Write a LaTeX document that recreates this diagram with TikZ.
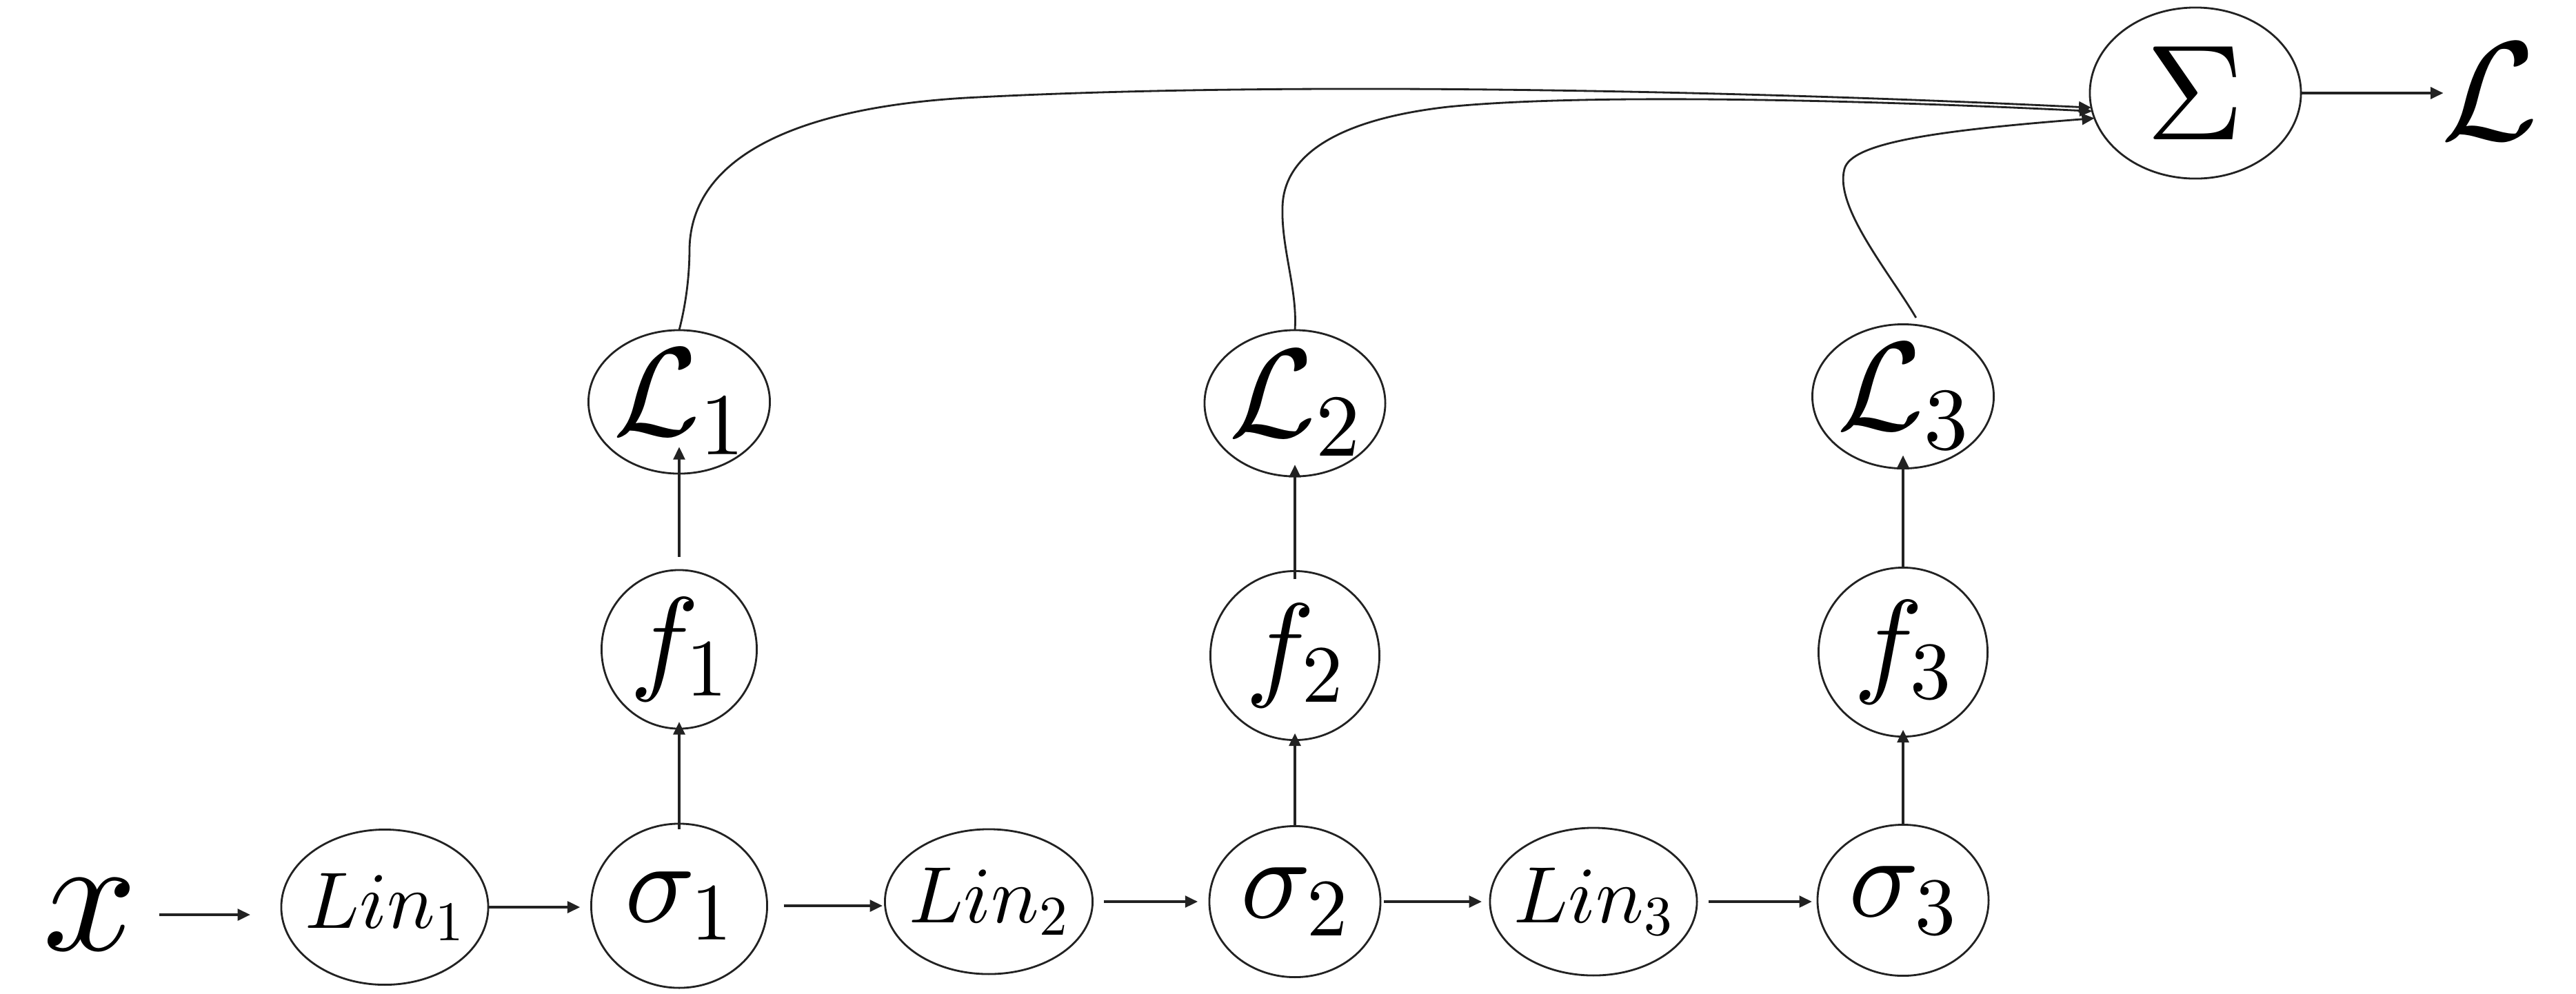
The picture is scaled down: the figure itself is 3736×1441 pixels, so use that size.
\documentclass[tikz,border=0pt]{standalone}
\DeclareFontShape{OML}{cmm}{m}{it}{<->cmmi10}{}
\DeclareFontShape{OMS}{cmsy}{m}{n}{<->cmsy10}{}
\DeclareFontShape{OT1}{cmr}{m}{n}{<->cmr10}{}
\usetikzlibrary{shapes.geometric,arrows.meta}
\definecolor{ink}{RGB}{34,34,34}
\begin{document}
\begin{tikzpicture}[x=0.01cm, y=-0.01cm,
  ell/.style={draw=ink, ellipse, line width=0.8pt, inner sep=0pt, outer sep=0pt},
  arr/.style={draw=ink, line width=0.9pt, -{Triangle[length=5.2pt,width=4.8pt]}},
  crv/.style={draw=ink, line width=0.8pt, -{Triangle[length=5.2pt,width=4.6pt]}},
  tlin/.style={font=\fontsize{33}{40}\selectfont, inner sep=0pt},
  tmid/.style={font=\fontsize{48}{58}\selectfont, inner sep=0pt},
  tloss/.style={font=\fontsize{52}{62}\selectfont, inner sep=0pt},
  tsum/.style={font=\fontsize{56}{66}\selectfont, inner sep=0pt},
  tout/.style={font=\fontsize{58}{70}\selectfont, inner sep=0pt},
  tin/.style={font=\fontsize{68}{80}\selectfont, inner sep=0pt}]
\path[fill=white] (0,0) rectangle (3736,1441);
\useasboundingbox (0,0) rectangle (3736,1441);

% input and output texts
\node[tin] (x) at (131,1327) {$x$};
\node[tout] (Lf) at (3611,133) {$\mathcal{L}$};

% bottom row
\node[ell, minimum width=3.00cm, minimum height=2.25cm, label={[tlin]center:$Lin_1$}] (lin1) at (558,1316) {};
\node[ell, minimum width=2.55cm, minimum height=2.38cm, label={[tmid]center:$\sigma_1$}] (s1) at (985,1314) {};
\node[ell, minimum width=3.01cm, minimum height=2.10cm, label={[tlin]center:$Lin_2$}] (lin2) at (1434,1308) {};
\node[ell, minimum width=2.48cm, minimum height=2.19cm, label={[tmid]center:$\sigma_2$}] (s2) at (1878,1308) {};
\node[ell, minimum width=3.00cm, minimum height=2.14cm, label={[tlin]center:$Lin_3$}] (lin3) at (2311,1308) {};
\node[ell, minimum width=2.48cm, minimum height=2.19cm, label={[tmid]center:$\sigma_3$}] (s3) at (2760,1306) {};

% middle row
\node[ell, minimum width=2.25cm, minimum height=2.30cm, label={[tmid]center:$f_1$}] (f1) at (985,942) {};
\node[ell, minimum width=2.45cm, minimum height=2.45cm, label={[tmid]center:$f_2$}] (f2) at (1878,951) {};
\node[ell, minimum width=2.45cm, minimum height=2.45cm, label={[tmid]center:$f_3$}] (f3) at (2760,946) {};

% top row
\node[ell, minimum width=2.63cm, minimum height=2.08cm, label={[tloss]center:$\mathcal{L}_1$}] (l1) at (985,583) {};
\node[ell, minimum width=2.62cm, minimum height=2.12cm, label={[tloss]center:$\mathcal{L}_2$}] (l2) at (1878,585) {};
\node[ell, minimum width=2.63cm, minimum height=2.09cm, label={[tloss]center:$\mathcal{L}_3$}] (l3) at (2760,575) {};

% sum
\node[ell, minimum width=3.06cm, minimum height=2.48cm, label={[tsum]center:$\Sigma$}] (S) at (3184,135) {};

% horizontal arrows
\draw[arr, shorten <=8.8pt, shorten >=12.8pt] (x.east) -- (x.east -| lin1.west);
\draw[arr, shorten >=4.6pt] (lin1.east) -- (lin1.east -| s1.west);
\draw[arr, shorten <=6.8pt, shorten >=1pt] (s1.east) -- (s1.east -| lin2.west);
\draw[arr, shorten <=4.6pt, shorten >=4.8pt] (lin2.east) -- (lin2.east -| s2.west);
\draw[arr, shorten <=1.4pt, shorten >=3.4pt] (s2.east) -- (s2.east -| lin3.west);
\draw[arr, shorten <=4.8pt, shorten >=2.3pt] (lin3.east) -- (lin3.east -| s3.west);
\draw[arr, shorten >=-1pt] (S.east) -- (S.east -| Lf.west);

% vertical arrows
\draw[arr, shorten <=-2.3pt, shorten >=-2.8pt] (s1.north) -- (f1.south);
\draw[arr, shorten <=5.5pt, shorten >=-11pt] (f1.north) -- (l1.south);
\draw[arr, shorten >=-2.8pt] (s2.north) -- (f2.south);
\draw[arr, shorten <=-3.4pt, shorten >=-4.8pt] (f2.north) -- (l2.south);
\draw[arr, shorten >=-2.8pt] (s3.north) -- (f3.south);
\draw[arr, shorten >=-5.4pt] (f3.north) -- (l3.south);

% curves to the sum
\draw[crv] (l1.north) .. controls (995,440) and (1000,400) .. (1000,360)
  .. controls (1003,230) and (1150,157) .. (1400,142)
  .. controls (1900,115) and (2600,135) .. (S.188);
\draw[crv] (l2.north) .. controls (1882,420) and (1858,360) .. (1860,300)
  .. controls (1862,220) and (1950,172) .. (2100,155)
  .. controls (2300,135) and (2700,145) .. (S.190);
\draw[crv, shorten <=3.8pt] (l3.76) .. controls (2740,395) and (2660,300) .. (2675,245)
  .. controls (2685,208) and (2800,190) .. (S.194);
\end{tikzpicture}
\end{document}
